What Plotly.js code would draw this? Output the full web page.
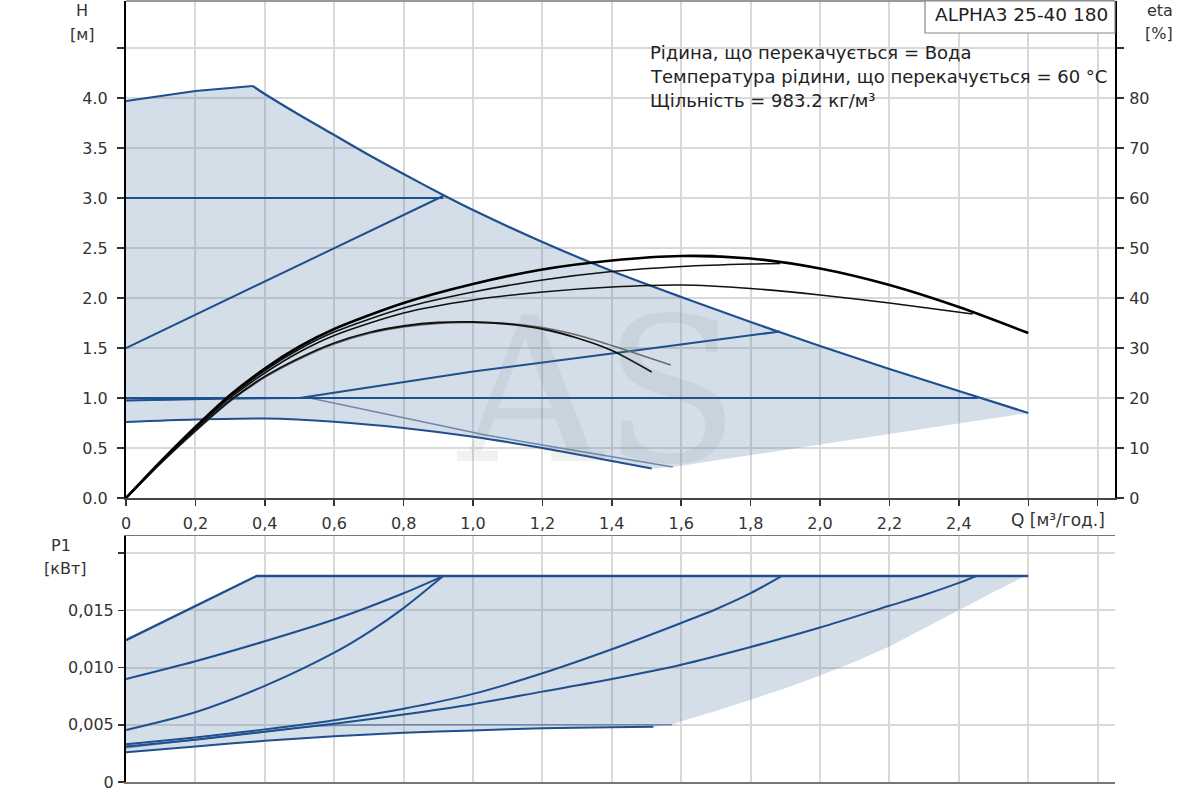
<!DOCTYPE html>
<html>
<head>
<meta charset="utf-8">
<script src="https://cdn.plot.ly/plotly-3.0.1.min.js"></script>
<style>
  html, body { margin: 0; padding: 0; background: #fff; }
  #chart { width: 1200px; height: 800px; }
</style>
</head>
<body>
<div id="chart"></div>
<script>
// ALPHA3 25-40 180: H + eta on top, P1 below

// --- head H [м] against Q [м³/год.] ---
const maxUpQ = [0, 0.1, 0.2, 0.3, 0.365];
const maxUpH = [3.97, 4.02, 4.07, 4.10, 4.12];
const maxDownQ = [0.365, 0.4, 0.5, 0.6, 0.7, 0.8, 0.914, 1.0, 1.2, 1.4, 1.6, 1.8, 2.0, 2.2, 2.4, 2.6];
const maxDownH = [4.12, 4.04, 3.83, 3.63, 3.43, 3.24, 3.03, 2.88, 2.56, 2.27, 2.01, 1.76, 1.52, 1.29, 1.07, 0.85];
const cp3Q = [0, 0.914];
const cp3H = [3.0, 3.0];
const ppHiQ = [0, 0.914];
const ppHiH = [1.5, 3.02];
const cp1Q = [0, 2.455];
const cp1H = [1.0, 1.0];
const ppLoQ = [0, 0.3, 0.5, 1.0, 1.5, 1.885];
const ppLoH = [0.975, 0.995, 1.0, 1.265, 1.49, 1.665];
const descQ = [0, 0.3, 0.53, 0.8, 1.036, 1.2, 1.4, 1.576];
const descH = [0.975, 0.995, 1.0, 0.80, 0.63, 0.53, 0.415, 0.31];
const minQ = [0, 0.2, 0.4, 0.6, 0.8, 1.0, 1.2, 1.4, 1.515];
const minH = [0.76, 0.785, 0.795, 0.763, 0.70, 0.612, 0.50, 0.37, 0.295];
const edgeQ = [1.576, 2.0, 2.6];
const edgeH = [0.31, 0.535, 0.85];

// --- efficiency eta [%] ---
const etaAQ = [0, 0.1, 0.2, 0.3, 0.4, 0.5, 0.6, 0.8, 1.0, 1.2, 1.4, 1.6, 1.8, 2.0, 2.2, 2.4, 2.6];
const etaA = [0, 7.3, 14.2, 20.6, 25.9, 30.3, 33.8, 39.0, 42.8, 45.7, 47.5, 48.4, 47.9, 45.9, 42.6, 38.2, 33.0];
const etaBQ = [0, 0.1, 0.2, 0.3, 0.4, 0.5, 0.6, 0.8, 1.0, 1.2, 1.4, 1.6, 1.8, 1.885];
const etaB = [0, 7.2, 14.0, 20.3, 25.5, 29.8, 33.2, 38.0, 41.2, 43.6, 45.3, 46.3, 46.8, 46.9];
const etaCQ = [0, 0.1, 0.2, 0.3, 0.4, 0.5, 0.6, 0.8, 1.0, 1.2, 1.4, 1.6, 1.8, 2.0, 2.2, 2.44];
const etaC = [0, 7.1, 13.8, 20.0, 25.0, 29.2, 32.5, 37.0, 39.6, 41.2, 42.2, 42.6, 41.9, 40.6, 39.0, 36.8];
const etaDQ = [0, 0.1, 0.2, 0.3, 0.4, 0.5, 0.6, 0.7, 0.8, 0.9, 1.0, 1.1, 1.2, 1.3, 1.4, 1.515];
const etaD = [0, 7.0, 13.5, 19.5, 24.3, 28.0, 31.0, 33.1, 34.4, 35.1, 35.2, 34.8, 33.8, 32.0, 29.5, 25.2];
const etaEQ = [0, 0.1, 0.2, 0.3, 0.4, 0.5, 0.6, 0.7, 0.8, 0.9, 1.0, 1.1, 1.2, 1.3, 1.4, 1.5, 1.57];
const etaE = [0, 6.9, 13.3, 19.3, 24.1, 27.8, 30.8, 32.9, 34.2, 34.9, 35.1, 34.9, 34.1, 32.6, 30.5, 28.2, 26.6];

// --- power P1 [кВт] ---
const pTopQ = [0, 0.376, 2.6];
const pTopP = [0.0124, 0.018, 0.018];
const pHiQ = [0, 0.2, 0.4, 0.6, 0.8, 0.914];
const pHiP = [0.0090, 0.01055, 0.0123, 0.0142, 0.0165, 0.018];
const p3Q = [0, 0.2, 0.4, 0.6, 0.7, 0.8, 0.914];
const p3P = [0.00455, 0.0061, 0.0084, 0.0113, 0.0131, 0.0152, 0.018];
const pLoQ = [0, 0.2, 0.4, 0.6, 0.8, 1.0, 1.2, 1.4, 1.6, 1.7, 1.8, 1.889];
const pLoP = [0.0033, 0.0039, 0.0046, 0.0054, 0.0064, 0.0077, 0.0095, 0.0116, 0.0139, 0.0151, 0.0165, 0.018];
const p1Q = [0, 0.2, 0.4, 0.6, 0.8, 1.0, 1.2, 1.4, 1.6, 1.8, 2.0, 2.2, 2.3, 2.4, 2.45];
const p1P = [0.0031, 0.0037, 0.0044, 0.0051, 0.0059, 0.0068, 0.0079, 0.0090, 0.01025, 0.0118, 0.0135, 0.0154, 0.01635, 0.0174, 0.018];
const pDescQ = [0, 0.2, 0.4, 0.55, 0.8, 1.2, 1.573];
const pDescP = [0.0030, 0.0037, 0.0044, 0.0049, 0.0050, 0.0050, 0.0050];
const pMinQ = [0, 0.2, 0.4, 0.6, 0.8, 1.0, 1.2, 1.4, 1.52];
const pMinP = [0.0026, 0.0031, 0.0036, 0.0040, 0.0043, 0.0045, 0.0047, 0.00478, 0.00483];
const pEdgeQ = [1.573, 1.6, 1.7, 1.8, 1.9, 2.0, 2.1, 2.2, 2.3, 2.4, 2.5, 2.585];
const pEdgeP = [0.0050, 0.0053, 0.0062, 0.0072, 0.0082, 0.0093, 0.0105, 0.01185, 0.0134, 0.0150, 0.0166, 0.0179];

// --- ticks ---
const qTicks = [0, 0.2, 0.4, 0.6, 0.8, 1.0, 1.2, 1.4, 1.6, 1.8, 2.0, 2.2, 2.4, 2.6, 2.8];
const qTickText = ['0', '0,2', '0,4', '0,6', '0,8', '1,0', '1,2', '1,4', '1,6', '1,8', '2,0', '2,2', '2,4', '', ''];
const hTicks = [0, 0.5, 1.0, 1.5, 2.0, 2.5, 3.0, 3.5, 4.0, 4.5];
const hTickText = ['0.0', '0.5', '1.0', '1.5', '2.0', '2.5', '3.0', '3.5', '4.0', ''];
const etaTicks = [0, 10, 20, 30, 40, 50, 60, 70, 80, 90];
const etaTickText = ['0', '10', '20', '30', '40', '50', '60', '70', '80', ''];
const pTicks = [0, 0.005, 0.010, 0.015, 0.020];
const pTickText = ['0', '0,005', '0,010', '0,015', ''];

const BLUE = '#1f4f8e';
const GREY_BLUE = '#7088a8';
const FILL = 'rgba(70,115,165,0.24)';
const FONT = 'DejaVu Sans, sans-serif';

// pixel -> paper helpers (plot area 126..1115 x 1..782)
const px = x => (x - 126) / 989;
const py = y => (782 - y) / 781;

function curve(x, y, color, width, xa, ya, shape) {
    return {
        x: x, y: y, type: 'scatter', mode: 'lines',
        line: { color: color, width: width, shape: shape || 'linear', smoothing: 0.8 },
        xaxis: xa, yaxis: ya, hoverinfo: 'skip'
    };
}

const rev = a => a.slice().reverse();

// shaded operating areas
const topFill = {
    x: maxUpQ.concat(maxDownQ.slice(1), rev(edgeQ).slice(1), rev(minQ)),
    y: maxUpH.concat(maxDownH.slice(1), rev(edgeH).slice(1), rev(minH)),
    type: 'scatter', mode: 'lines', fill: 'toself', fillcolor: FILL,
    line: { width: 0 }, xaxis: 'x', yaxis: 'y', hoverinfo: 'skip'
};
const botFill = {
    x: pTopQ.concat(rev(pEdgeQ), rev(pMinQ)),
    y: pTopP.concat(rev(pEdgeP), rev(pMinP)),
    type: 'scatter', mode: 'lines', fill: 'toself', fillcolor: FILL,
    line: { width: 0 }, xaxis: 'x2', yaxis: 'y3', hoverinfo: 'skip'
};

const data = [
    topFill,
    curve(descQ, descH, GREY_BLUE, 1.6, 'x', 'y'),
    curve(minQ, minH, BLUE, 2, 'x', 'y', 'spline'),
    curve(cp3Q, cp3H, BLUE, 2.2, 'x', 'y'),
    curve(ppHiQ, ppHiH, BLUE, 2, 'x', 'y'),
    curve(cp1Q, cp1H, BLUE, 2.2, 'x', 'y'),
    curve(ppLoQ, ppLoH, BLUE, 2, 'x', 'y'),
    curve(maxUpQ, maxUpH, BLUE, 2, 'x', 'y'),
    curve(maxDownQ, maxDownH, BLUE, 2.2, 'x', 'y', 'spline'),
    curve(etaEQ, etaE, '#6a6a6a', 1.4, 'x', 'y2', 'spline'),
    curve(etaDQ, etaD, '#111', 1.8, 'x', 'y2', 'spline'),
    curve(etaCQ, etaC, '#111', 1.6, 'x', 'y2', 'spline'),
    curve(etaBQ, etaB, '#111', 1.6, 'x', 'y2', 'spline'),
    curve(etaAQ, etaA, '#000', 2.6, 'x', 'y2', 'spline'),
    botFill,
    curve(pDescQ, pDescP, GREY_BLUE, 1.6, 'x2', 'y3', 'spline'),
    curve(pMinQ, pMinP, BLUE, 2, 'x2', 'y3', 'spline'),
    curve(p1Q, p1P, BLUE, 2, 'x2', 'y3', 'spline'),
    curve(pLoQ, pLoP, BLUE, 2, 'x2', 'y3', 'spline'),
    curve(p3Q, p3P, BLUE, 2, 'x2', 'y3', 'spline'),
    curve(pHiQ, pHiP, BLUE, 2, 'x2', 'y3', 'spline'),
    curve(pTopQ, pTopP, BLUE, 2.4, 'x2', 'y3')
];

const tickFont = { family: FONT, size: 16, color: '#333' };
const gridCol = '#d9d9d9';

function ann(text, x, y, opts) {
    return Object.assign({
        text: text, xref: 'paper', yref: 'paper', x: px(x), y: py(y),
        xanchor: 'center', yanchor: 'middle', showarrow: false,
        font: { family: FONT, size: 16, color: '#333' }
    }, opts || {});
}

const infoFont = { family: FONT, size: 18, color: '#222' };

const layout = {
    width: 1200, height: 800,
    margin: { l: 126, r: 85, t: 1, b: 18 },
    paper_bgcolor: '#fff', plot_bgcolor: '#fff',
    showlegend: false,
    xaxis: {
        domain: [0, 1], anchor: 'y', range: [0, 2.85],
        tickmode: 'array', tickvals: qTicks, ticktext: qTickText,
        ticks: 'outside', ticklen: 6, tickwidth: 1.5, tickcolor: '#333',
        ticklabelstandoff: 4,
        showgrid: true, gridcolor: gridCol, gridwidth: 2, zeroline: false,
        showline: true, linecolor: '#444', linewidth: 2,
        tickfont: tickFont, fixedrange: true
    },
    yaxis: {
        domain: [py(498), 1], anchor: 'x', range: [0, 4.97],
        tickmode: 'array', tickvals: hTicks, ticktext: hTickText,
        ticks: 'outside', ticklen: 7, tickwidth: 1.5, tickcolor: '#333',
        ticklabelstandoff: 6,
        showgrid: true, gridcolor: gridCol, gridwidth: 2, zeroline: false,
        showline: true, linecolor: '#000', linewidth: 2,
        tickfont: tickFont, fixedrange: true
    },
    yaxis2: {
        overlaying: 'y', side: 'right', anchor: 'x', range: [0, 99.4],
        tickmode: 'array', tickvals: etaTicks, ticktext: etaTickText,
        ticks: 'outside', ticklen: 7, tickwidth: 1.5, tickcolor: '#333',
        ticklabelstandoff: 2,
        showgrid: false, zeroline: false,
        showline: true, linecolor: '#000', linewidth: 2,
        tickfont: tickFont, fixedrange: true
    },
    xaxis2: {
        domain: [0, 1], anchor: 'y3', range: [0, 2.85],
        tickmode: 'array', tickvals: qTicks, showticklabels: false, ticks: '',
        showgrid: true, gridcolor: gridCol, gridwidth: 2, zeroline: false,
        showline: true, linecolor: '#777', linewidth: 1.5, mirror: true,
        fixedrange: true
    },
    yaxis3: {
        domain: [0, py(536)], anchor: 'x2', range: [0, 0.0215],
        tickmode: 'array', tickvals: pTicks, ticktext: pTickText,
        ticks: 'outside', ticklen: 6, tickwidth: 1.5, tickcolor: '#333',
        ticklabelstandoff: 1,
        showgrid: true, gridcolor: gridCol, gridwidth: 2, zeroline: false,
        showline: true, linecolor: '#000', linewidth: 2,
        tickfont: tickFont, fixedrange: true
    },
    shapes: [
        // top frame edge of the H plot
        { type: 'line', xref: 'x domain', yref: 'y domain', x0: 0, x1: 1, y0: 1, y1: 1,
          line: { color: '#777', width: 1.5 }, layer: 'above' },
        // pump model box
        { type: 'rect', xref: 'paper', yref: 'paper', x0: px(925), x1: 1, y0: py(33), y1: 1,
          fillcolor: '#fff', line: { color: '#888', width: 1.2 }, layer: 'above' }
    ],
    annotations: [
        ann('AS', 597, 392, { font: { family: 'DejaVu Serif, serif', size: 200, color: 'rgba(120,120,120,0.10)' } }),
        ann('H', 82, 10),
        ann('[м]', 82, 35),
        ann('eta', 1160, 11),
        ann('[%]', 1159, 33),
        ann('P1', 61, 546),
        ann('[кВт]', 65, 568),
        ann('Q [м³/год.]', 1058, 520, { font: { family: FONT, size: 17, color: '#333' } }),
        ann('ALPHA3 25-40 180', 1021, 15, { font: { family: FONT, size: 18.5, color: '#222' } }),
        ann('Рідина, що перекачується = Вода', 648, 52, { xanchor: 'left', font: infoFont }),
        ann('Температура рідини, що перекачується = 60 °C', 648, 77, { xanchor: 'left', font: infoFont }),
        ann('Щільність = 983.2 кг/м³', 648, 100, { xanchor: 'left', font: infoFont })
    ]
};

Plotly.newPlot('chart', data, layout, { staticPlot: true, displayModeBar: false });
</script>
</body>
</html>
